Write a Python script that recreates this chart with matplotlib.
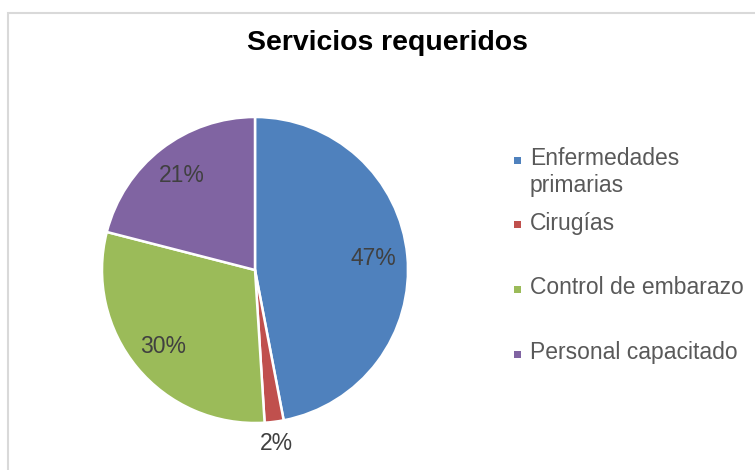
import math
import matplotlib.pyplot as plt
from matplotlib.patches import Rectangle

plt.rcParams['font.family'] = ['Liberation Sans', 'DejaVu Sans']

titulo = 'Servicios requeridos'
categorias = ['Enfermedades\nprimarias', 'Cirugías', 'Control de embarazo', 'Personal capacitado']
valores = [47, 2, 30, 21]
colores = ['#4F81BD', '#C0504D', '#9BBB59', '#8064A2']

fig = plt.figure(figsize=(7.55, 4.70), dpi=100)

# marco gris del gráfico (solo se ven los bordes superior e izquierdo)
fig.patches.append(Rectangle((8 / 755, -0.1), 1.1, 1.1 - 13 / 470,
                             transform=fig.transFigure, fill=False,
                             edgecolor='#d9d9d9', linewidth=1.5))

ax = fig.add_axes([102 / 755, 47 / 470, 306 / 755, 306 / 470])
wedges, textos, pcts = ax.pie(valores, colors=colores, startangle=90, counterclock=False,
                              autopct='%1.0f%%', pctdistance=0.78,
                              wedgeprops=dict(edgecolor='white', linewidth=1.8),
                              textprops=dict(color='#404040', fontsize=16.5))
ax.set_xlim(-1, 1)
ax.set_ylim(-1, 1)

# la etiqueta del sector pequeño va fuera del círculo
w = wedges[1]
ang = math.radians((w.theta1 + w.theta2) / 2)
pcts[1].set_position((1.14 * math.cos(ang), 1.14 * math.sin(ang)))

fig.text(387 / 755, 1 - 43 / 470, titulo, ha='center', va='center',
         fontsize=20.4, fontweight='bold', color='black')

# leyenda a mano: cuadrado alineado con la primera línea de cada texto
paso = 64.7
for i, (cat, c) in enumerate(zip(categorias, colores)):
    y = 1 - (160 + paso * i) / 470
    fig.patches.append(Rectangle((514 / 755, y - 3.5 / 470), 7 / 755, 7 / 470,
                                 transform=fig.transFigure, facecolor=c, edgecolor='none'))
    fig.text(530 / 755, y + 13 / 470, cat, ha='left', va='top', fontsize=16.5,
             color='#595959', linespacing=1.2)

fig.savefig('out.png', dpi=100)
